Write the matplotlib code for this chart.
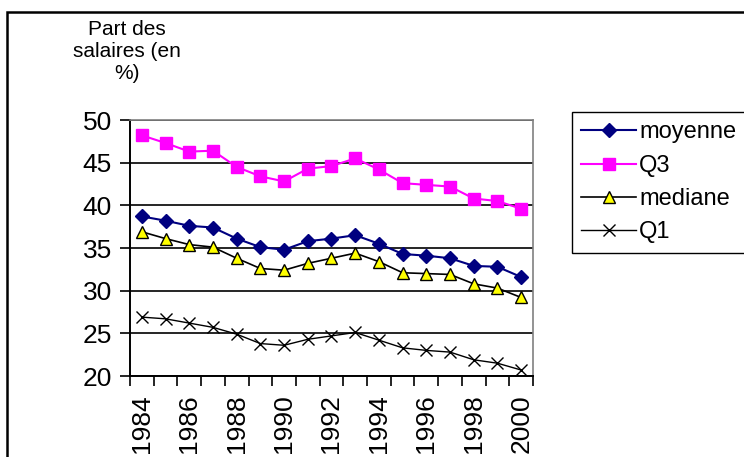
import matplotlib.pyplot as plt
from matplotlib.patches import Rectangle
import numpy as np

plt.rcParams['font.family'] = ['Liberation Sans', 'DejaVu Sans']

# data (part des salaires, %)
years = list(range(1984, 2001))
moyenne = [38.7, 38.2, 37.6, 37.4, 36.1, 35.1, 34.8, 35.8, 36.1, 36.5, 35.5,
           34.3, 34.1, 33.8, 32.9, 32.8, 31.6]
q3 = [48.2, 47.3, 46.3, 46.4, 44.5, 43.4, 42.8, 44.3, 44.6, 45.5, 44.2,
      42.6, 42.4, 42.2, 40.8, 40.5, 39.6]
mediane = [36.9, 36.1, 35.4, 35.1, 33.8, 32.6, 32.4, 33.2, 33.8, 34.4, 33.4,
           32.1, 32.0, 31.9, 30.8, 30.3, 29.2]
q1 = [26.9, 26.7, 26.2, 25.7, 24.9, 23.8, 23.6, 24.3, 24.7, 25.1, 24.2,
      23.3, 23.0, 22.8, 21.9, 21.5, 20.7]
yticks = [20, 25, 30, 35, 40, 45, 50]

W, H = 744, 457
fig = plt.figure(figsize=(W / 100, H / 100), dpi=100)

# outer chart frame (cut by the picture at right and bottom)
fig.patches.append(Rectangle((7 / W, -0.1), 1.2, 1.1 - 11.5 / H,
                             transform=fig.transFigure, fill=False,
                             edgecolor='black', lw=1.8))

ax = fig.add_axes([130 / W, 1 - 376 / H, (533 - 130) / W, (376 - 120) / H])
x = np.arange(len(years))

ax.plot(x, moyenne, color='#000080', lw=1.5, marker='D', ms=7,
        mfc='#000080', mec='#000080', label='moyenne', zorder=4)
ax.plot(x, q3, color='#FF00FF', lw=1.5, marker='s', ms=9,
        mfc='#FF00FF', mec='#FF00FF', label='Q3', zorder=4)
ax.plot(x, mediane, color='black', lw=1.2, marker='^', ms=9,
        mfc='#FFFF00', mec='black', mew=1, label='mediane', zorder=4)
ax.plot(x, q1, color='black', lw=1, marker='x', ms=9, mew=1,
        label='Q1', zorder=4)

ax.set_xlim(-0.5, len(years) - 0.5)
ax.set_ylim(20, 50)
ax.set_yticks(yticks)
ax.yaxis.grid(True, color='black', lw=1.2)
ax.set_axisbelow(True)

# category ticks between years, labels every other year
ax.set_xticks(np.arange(-0.5, len(years), 1), minor=False)
ax.set_xticklabels([])
ax.set_xticks(x[::2], minor=True)
ax.set_xticklabels([str(y) for y in years[::2]], minor=True, rotation=90,
                   fontsize=19)
ax.tick_params(axis='x', which='minor', length=0, pad=13)
ax.tick_params(axis='x', which='major', length=7, width=1.2, direction='out')
ax.tick_params(axis='y', labelsize=19, length=7, width=1.2, pad=6)

for s in ['top', 'right']:
    ax.spines[s].set_color('#808080')
    ax.spines[s].set_linewidth(1.2)
for s in ['left', 'bottom']:
    ax.spines[s].set_color('black')
    ax.spines[s].set_linewidth(1.4)

fig.text(127 / W, 1 - 20 / H, 'Part des\nsalaires (en\n%)', ha='center',
         va='top', fontsize=15, linespacing=1.2)

leg = fig.legend(loc='upper left', bbox_to_anchor=(572 / W, 1 - 112 / H),
                 bbox_transform=fig.transFigure, fontsize=17, frameon=True,
                 fancybox=False, edgecolor='black', framealpha=1,
                 borderpad=0.4, labelspacing=0.48, handlelength=2.3,
                 handletextpad=0.15, borderaxespad=0)
leg.get_frame().set_linewidth(1)

fig.savefig('out.png', dpi=100)
